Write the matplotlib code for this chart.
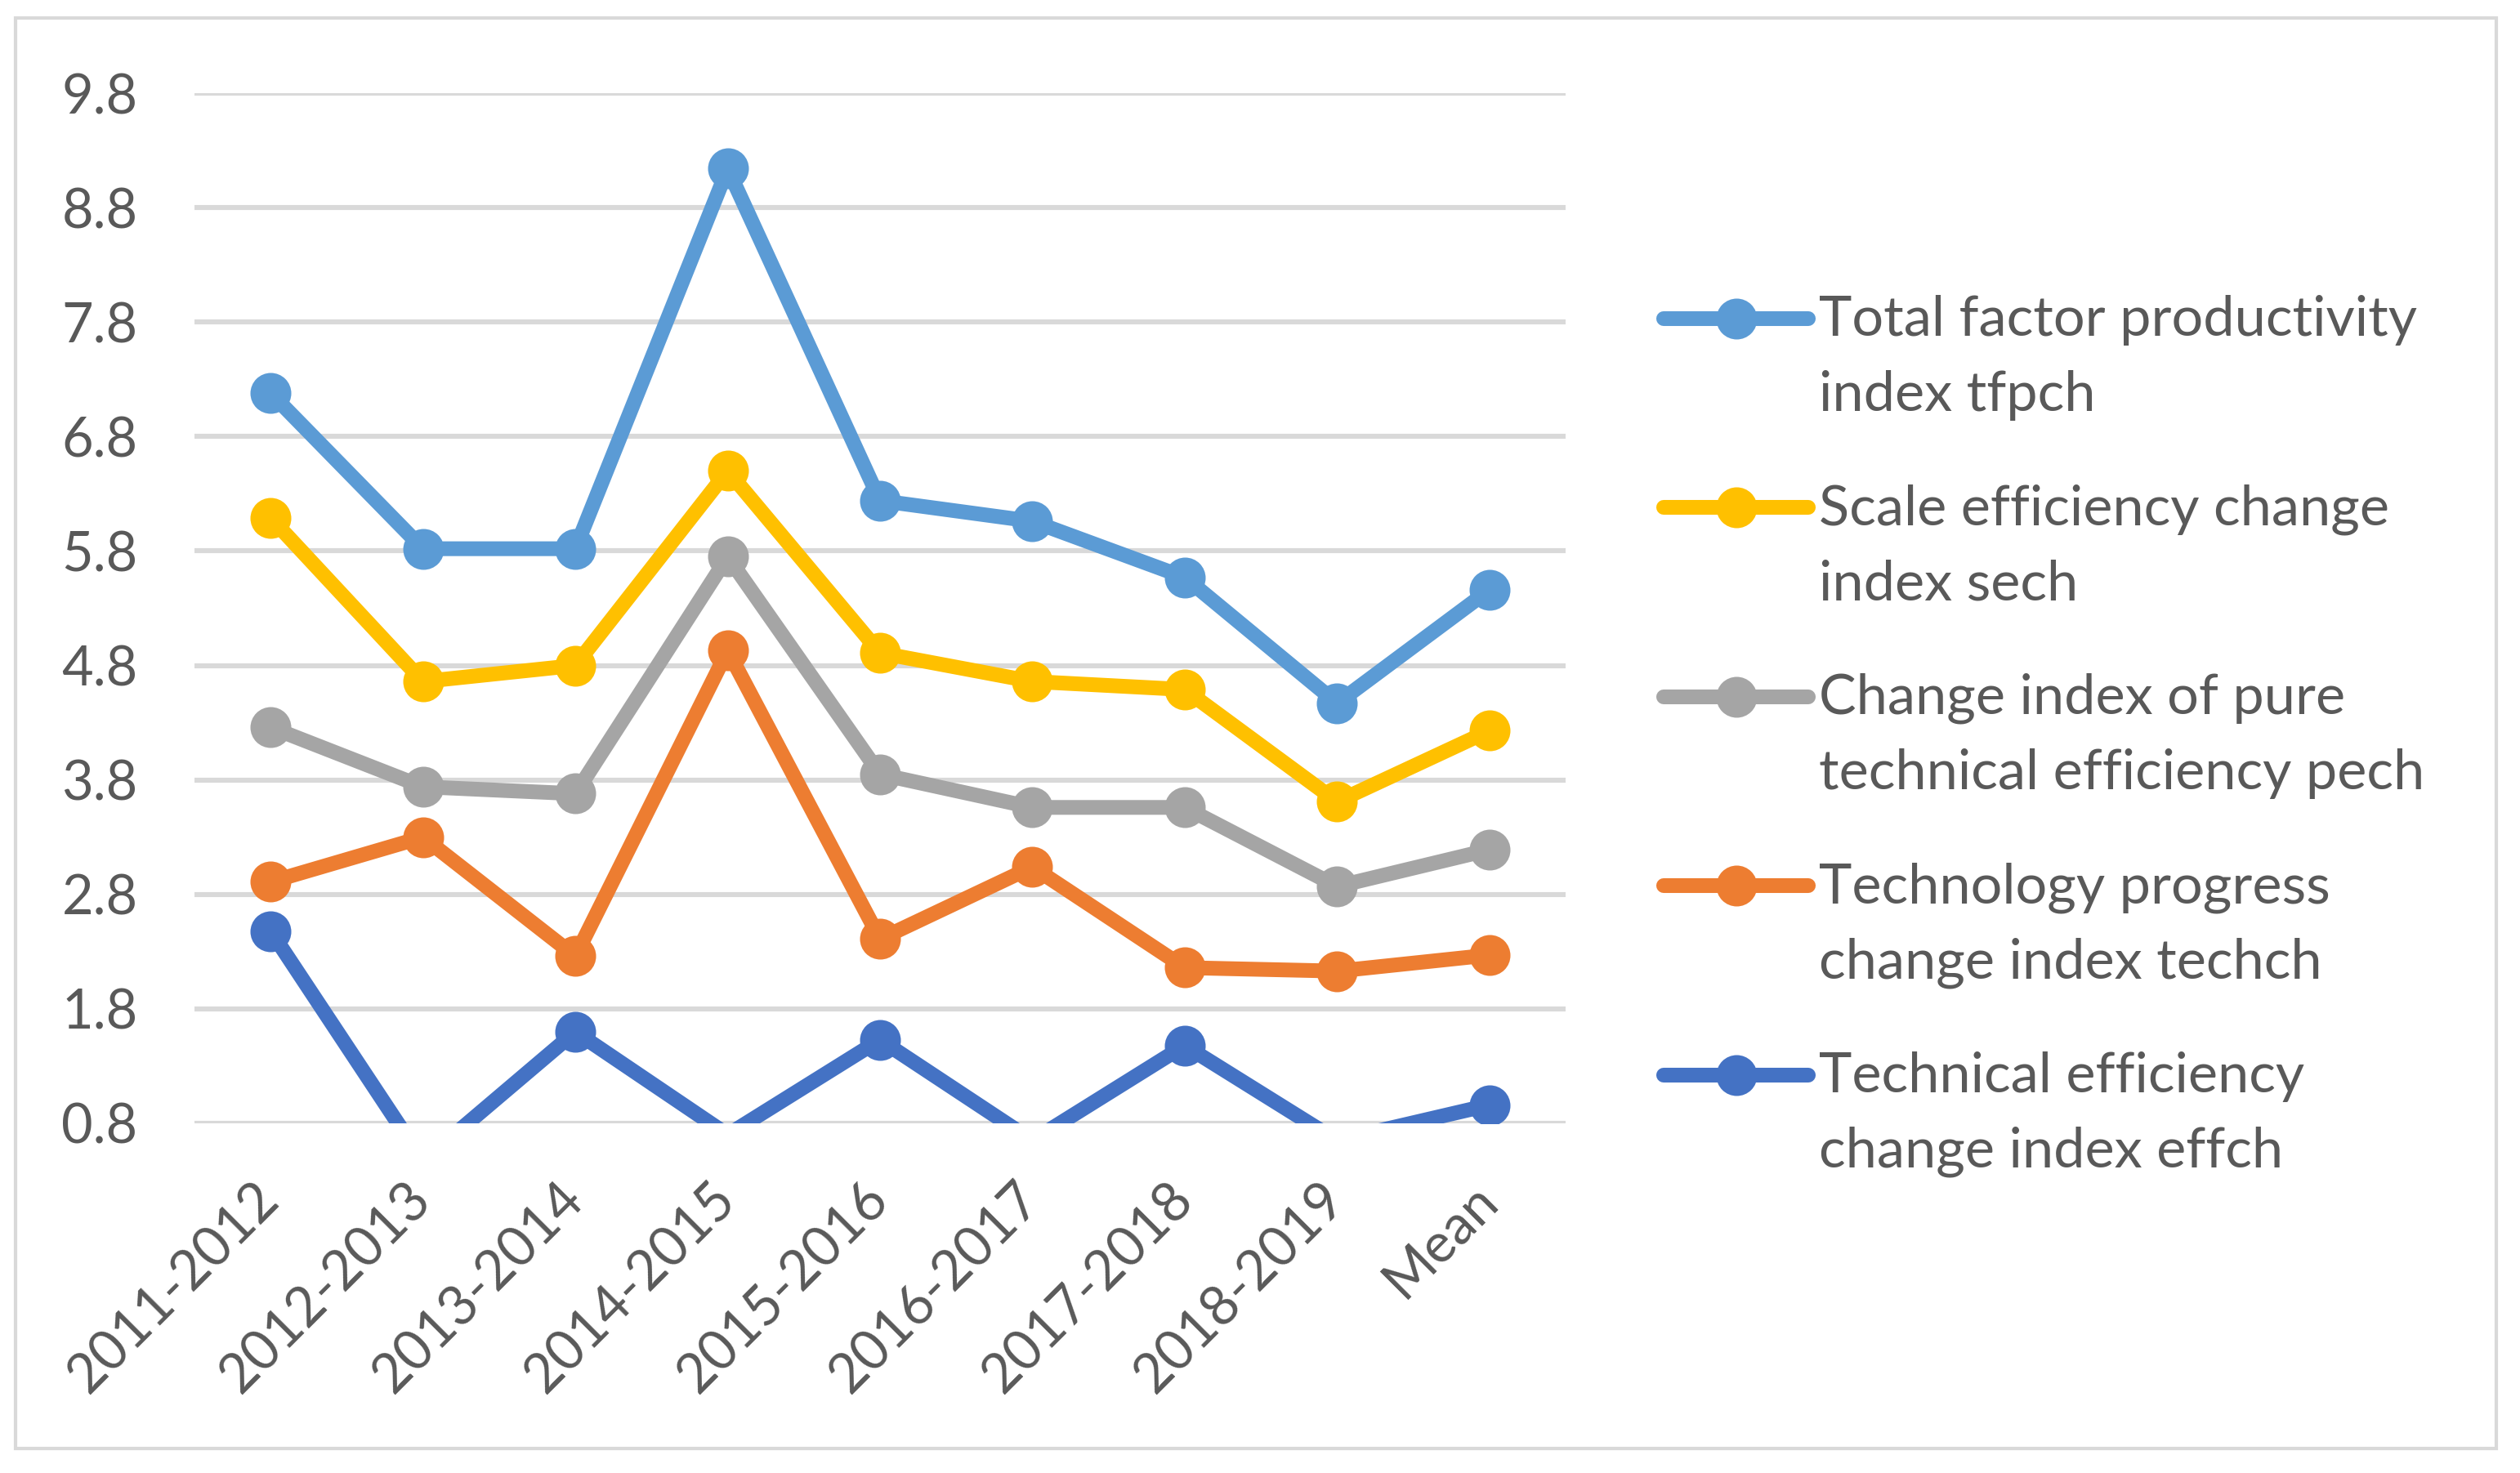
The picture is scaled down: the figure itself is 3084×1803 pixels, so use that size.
import matplotlib.pyplot as plt
import numpy as np
from matplotlib.lines import Line2D
from matplotlib.patches import Rectangle

plt.rcParams['font.family'] = ['Lato', 'DejaVu Sans']

periods = ["2011-2012", "2012-2013", "2013-2014", "2014-2015", "2015-2016",
           "2016-2017", "2017-2018", "2018-2019", "Mean"]

tfpch = [7.18, 5.82, 5.82, 9.14, 6.24, 6.06, 5.57, 4.47, 5.46]
sech = [6.09, 4.66, 4.80, 6.50, 4.91, 4.66, 4.59, 3.61, 4.23]
pech = [4.26, 3.74, 3.68, 5.75, 3.85, 3.56, 3.56, 2.87, 3.19]
techch = [2.91, 3.30, 2.26, 4.93, 2.41, 3.04, 2.16, 2.13, 2.27]
effch = [2.48, 0.47, 1.60, 0.70, 1.53, 0.65, 1.48, 0.65, 0.96]

yticks = [0.8, 1.8, 2.8, 3.8, 4.8, 5.8, 6.8, 7.8, 8.8, 9.8]

series = [
    ("Total factor productivity\nindex tfpch", tfpch, "#5B9BD5"),
    ("Scale efficiency change\nindex sech", sech, "#FFC000"),
    ("Change index of pure\ntechnical efficiency pech", pech, "#A5A5A5"),
    ("Technology progress\nchange index techch", techch, "#ED7D31"),
    ("Technical efficiency\nchange index effch", effch, "#4472C4"),
]

txt = "#595959"
W, H = 3084, 1803
fig = plt.figure(figsize=(W / 200, H / 200), dpi=200)
ax = fig.add_axes([238 / W, 1 - 1375 / H, (1916 - 238) / W, (1375 - 114) / H])

ymin, ymax = yticks[0], yticks[-1]
x = np.arange(len(periods))
for label, vals, col in series:
    v = np.array(vals, dtype=float)
    ax.plot(x, v, color=col, lw=6.5)
    # like Excel: points outside the axis range get no marker
    shown = np.where((v >= ymin) & (v <= ymax), v, np.nan)
    ax.plot(x, shown, ls="none", color=col, marker="o", ms=17)

ax.set_xlim(-0.5, len(periods) - 0.5)
ax.set_ylim(ymin, ymax)
ax.set_yticks(yticks)
ax.set_yticklabels([f"{v:.1f}" for v in yticks])
ax.set_xticks(x)
ax.set_xticklabels(periods, rotation=45, ha="right", va="center", rotation_mode="anchor")
ax.tick_params(axis="both", length=0, labelsize=24, labelcolor=txt)
ax.tick_params(axis="y", pad=25)
ax.tick_params(axis="x", pad=30)
ax.grid(axis="y", color="#D9D9D9", lw=2.2)
ax.set_axisbelow(True)
for s in ax.spines.values():
    s.set_visible(False)

# legend, drawn by hand so the marker sits on the first text line
for i, (label, vals, col) in enumerate(series):
    yc = 389.5 + i * 231.5
    fy = 1 - yc / H
    fig.add_artist(Line2D([2036 / W, 2213 / W], [fy, fy], transform=fig.transFigure,
                          color=col, lw=6.5, solid_capstyle="round"))
    fig.add_artist(Line2D([2125 / W], [fy], transform=fig.transFigure,
                          color=col, marker="o", ms=17))
    for j, line in enumerate(label.split("\n")):
        fig.text(2226 / W, 1 - (yc + 21.5 + j * 91.6) / H, line, fontsize=24.6,
                 color=txt, va="baseline", ha="left")

fig.add_artist(Rectangle((19 / W, 1 - 1773 / H), (3055 - 19) / W, (1773 - 22) / H,
                         transform=fig.transFigure, fill=False, ec="#D9D9D9", lw=1.5))

fig.savefig("out.png", dpi=200)
